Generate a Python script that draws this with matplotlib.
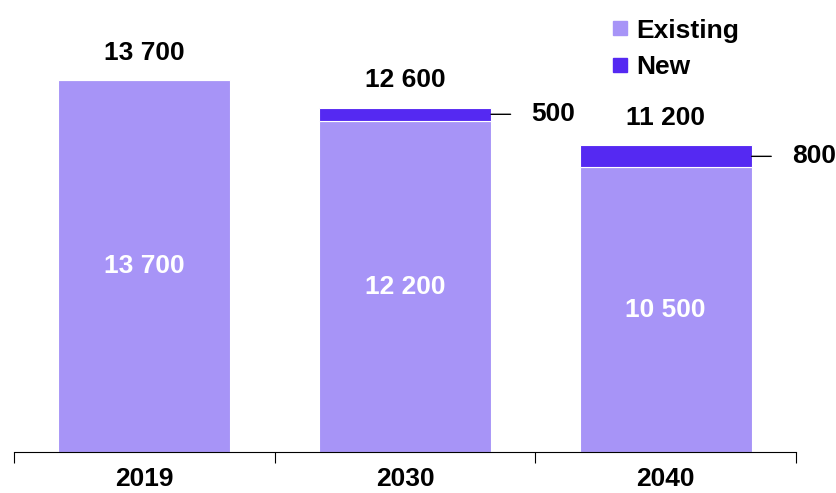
import numpy as np
import matplotlib.pyplot as plt
from matplotlib.lines import Line2D

years = ['2019', '2030', '2040']
existing = [13700, 12200, 10500]
new = [0, 500, 800]
totals = [13700, 12600, 11200]

c_exist = '#a794f7'
c_new = '#5529f2'

plt.rcParams['font.family'] = ['Liberation Sans', 'DejaVu Sans']
plt.rcParams['font.weight'] = 'bold'

fig = plt.figure(figsize=(8.36, 4.93), dpi=100)
ax = fig.add_axes([14 / 836, 41 / 493, 782 / 836, 434 / 493])

x = np.arange(len(years))
w = 0.66
ax.bar(x, existing, w, color=c_exist, edgecolor='white', linewidth=0.8)
ax.bar(x, new, w, bottom=existing, color=c_new, edgecolor='white', linewidth=0.8)

fs = 19
for i in range(len(years)):
    ax.text(x[i], existing[i] / 2, f'{existing[i]:,}'.replace(',', ' '),
            ha='center', va='center', color='white', fontsize=fs, fontweight='bold')
    ax.annotate(f'{totals[i]:,}'.replace(',', ' '), (x[i], existing[i] + new[i]),
                xytext=(0, 20), textcoords='offset points', ha='center', va='center',
                fontsize=fs, fontweight='bold')
    if new[i] > 0:
        ymid = existing[i] + new[i] / 2
        ax.annotate('', (x[i] + w / 2, ymid), xytext=(x[i] + w / 2 + 0.075, ymid),
                    arrowprops=dict(arrowstyle='-', color='black', lw=1,
                                    shrinkA=0, shrinkB=0))
        ax.text(x[i] + w / 2 + 0.155, ymid, f'{new[i]:,}'.replace(',', ' '),
                ha='left', va='center', fontsize=fs, fontweight='bold')

ax.set_xlim(-0.5, 2.5)
ax.set_ylim(0, 16000)
ax.set_xticks([-0.5, 0.5, 1.5, 2.5])
ax.set_xticklabels([])
ax.set_xticks(x, minor=True)
ax.set_xticklabels(years, minor=True, fontsize=fs, fontweight='bold')
ax.tick_params(axis='x', which='major', length=8, direction='out', width=0.8)
ax.tick_params(axis='x', which='minor', length=0, pad=11)
ax.set_yticks([])
for s in ['top', 'right', 'left']:
    ax.spines[s].set_visible(False)
ax.spines['bottom'].set_linewidth(0.8)

handles = [Line2D([], [], marker='s', linestyle='none', markersize=10, color=c_exist),
           Line2D([], [], marker='s', linestyle='none', markersize=10, color=c_new)]
fig.legend(handles, ['Existing', 'New'], loc='upper left',
           bbox_to_anchor=(602 / 836, 1 - 8 / 493), frameon=False,
           prop={'size': fs, 'weight': 'bold'}, handlelength=0.6,
           handletextpad=0.3, labelspacing=0.48, borderaxespad=0)

fig.savefig('out.png', dpi=100)
